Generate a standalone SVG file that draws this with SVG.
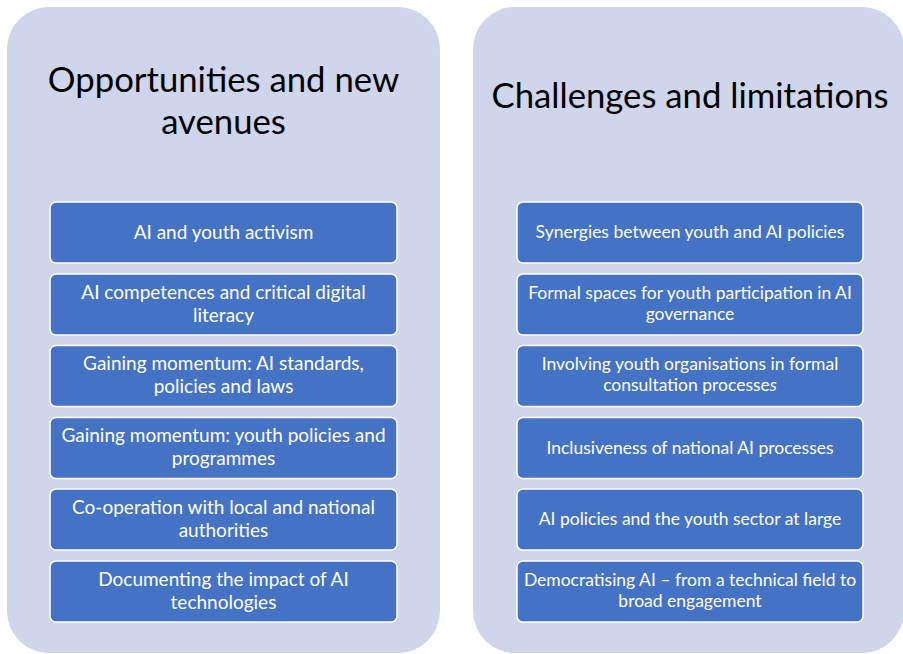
<svg xmlns="http://www.w3.org/2000/svg" width="903" height="654" viewBox="0 0 903 654">
<style>
.panel{fill:#CFD5EA}
.box{fill:#4472C4;stroke:#FFFFFF;stroke-width:1.5}
.title{font-family:Lato,"Liberation Sans",sans-serif;font-size:34.7px;fill:#000000;text-anchor:middle}
.lbl{font-family:Lato,"Liberation Sans",sans-serif;font-size:19px;fill:#FFFFFF;text-anchor:middle}
.lbr{font-family:Lato,"Liberation Sans",sans-serif;font-size:17.5px;fill:#FFFFFF;text-anchor:middle}
</style>
<rect width="903" height="654" fill="#FFFFFF"/>
<g id="panel-left">
<rect class="panel" x="7" y="7" width="433" height="646" rx="42"/>
<text class="title" x="223.5" y="92">Opportunities and new</text>
<text class="title" x="223.5" y="134">avenues</text>
</g>
<g id="panel-right">
<rect class="panel" x="473" y="7" width="431" height="646" rx="42"/>
<text class="title" x="690" y="108">Challenges and limitations</text>
</g>
<g id="connectors"></g>
<g id="l1"><rect class="box" x="50" y="202" width="347" height="61" rx="6"/><text class="lbl" x="223.5" y="238.5">AI and youth activism</text></g>
<g id="l2"><rect class="box" x="50" y="274" width="347" height="61" rx="6"/><text class="lbl" x="223.5" y="298.5">AI competences and critical digital</text><text class="lbl" x="223.5" y="321.5">literacy</text></g>
<g id="l3"><rect class="box" x="50" y="345.5" width="347" height="61" rx="6"/><text class="lbl" x="223.5" y="370">Gaining momentum: AI standards,</text><text class="lbl" x="223.5" y="393">policies and laws</text></g>
<g id="l4"><rect class="box" x="50" y="417.5" width="347" height="61" rx="6"/><text class="lbl" x="223.5" y="442">Gaining momentum: youth policies and</text><text class="lbl" x="223.5" y="465">programmes</text></g>
<g id="l5"><rect class="box" x="50" y="489" width="347" height="61" rx="6"/><text class="lbl" x="223.5" y="513.5">Co-operation with local and national</text><text class="lbl" x="223.5" y="536.5">authorities</text></g>
<g id="l6"><rect class="box" x="50" y="561" width="347" height="61" rx="6"/><text class="lbl" x="223.5" y="585.5">Documenting the impact of AI</text><text class="lbl" x="223.5" y="608.5">technologies</text></g>
<g id="r1"><rect class="box" x="517" y="202" width="346" height="61" rx="6"/><text class="lbr" x="690" y="238">Synergies between youth and AI policies</text></g>
<g id="r2"><rect class="box" x="517" y="274" width="346" height="61" rx="6"/><text class="lbr" x="690" y="298.5">Formal spaces for youth participation in AI</text><text class="lbr" x="690" y="319.5">governance</text></g>
<g id="r3"><rect class="box" x="517" y="345.5" width="346" height="61" rx="6"/><text class="lbr" x="690" y="370">Involving youth organisations in formal</text><text class="lbr" x="690" y="391">consultation processe<tspan font-style="italic">s</tspan></text></g>
<g id="r4"><rect class="box" x="517" y="417.5" width="346" height="61" rx="6"/><text class="lbr" x="690" y="453.5">Inclusiveness of national AI processes</text></g>
<g id="r5"><rect class="box" x="517" y="489" width="346" height="61" rx="6"/><text class="lbr" x="690" y="525">AI policies and the youth sector at large</text></g>
<g id="r6"><rect class="box" x="517" y="561" width="346" height="61" rx="6"/><text class="lbr" x="690" y="585.5">Democratising AI – from a technical field to</text><text class="lbr" x="690" y="606.5">broad engagement</text></g>
</svg>
